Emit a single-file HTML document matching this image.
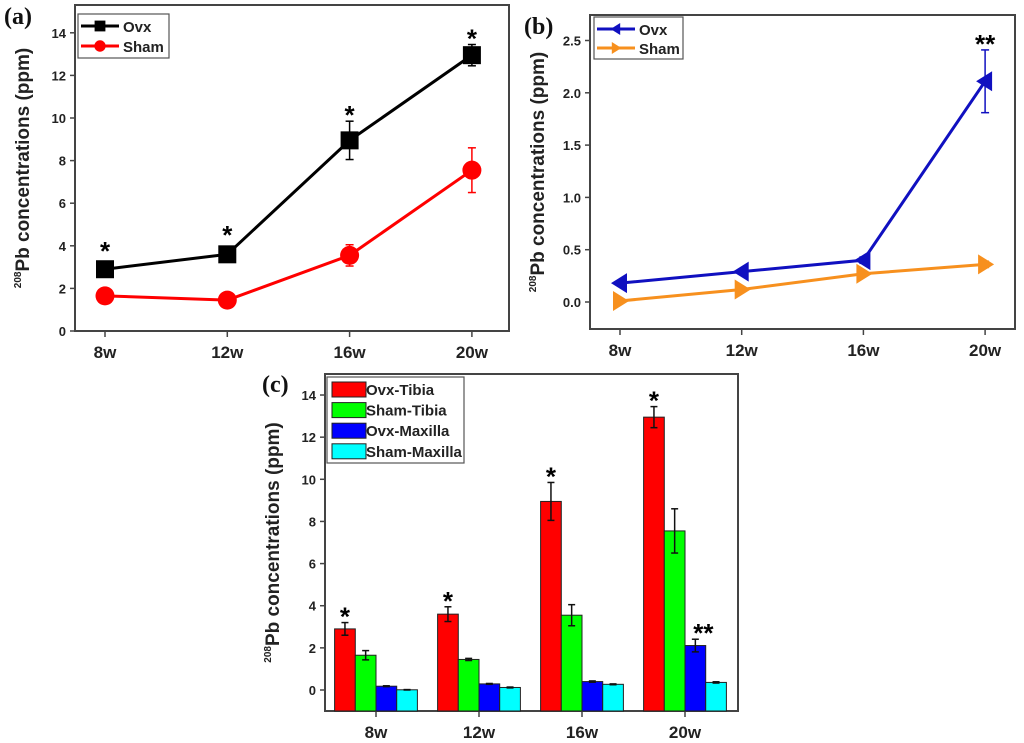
<!DOCTYPE html>
<html><head><meta charset="utf-8"><style>
html,body{margin:0;padding:0;background:#fff;}
svg{display:block;font-family:"Liberation Sans",Arial,sans-serif;}
</style></head><body>
<svg id="fig" width="1024" height="743" viewBox="0 0 1024 743" xmlns="http://www.w3.org/2000/svg"></svg>
<script>
const weeks = ["8w","12w","16w","20w"];
const tibiaOvx = [2.9,3.6,8.95,12.95];
const tibiaOvxErr = [0.3,0.35,0.9,0.5];
const tibiaSham = [1.65,1.45,3.55,7.55];
const tibiaShamErr = [0.22,0.05,0.5,1.05];
const maxOvx = [0.18,0.29,0.40,2.11];
const maxOvxErr = [0.02,0.02,0.03,0.3];
const maxSham = [0.01,0.12,0.27,0.36];
const maxShamErr = [0.01,0.02,0.02,0.03];
const ticksA = [0,2,4,6,8,10,12,14];
const ticksB = [0.0,0.5,1.0,1.5,2.0,2.5];
const starsA = ["*","*","*","*"];
const starsB = ["","","","**"];

const NS="http://www.w3.org/2000/svg";
const svg=document.getElementById('fig');
function mk(tag,attrs,parent,text){const e=document.createElementNS(NS,tag);for(const k in attrs)e.setAttribute(k,attrs[k]);if(text!==undefined)e.textContent=text;(parent||svg).appendChild(e);return e;}

function axes(g,P,ticks,fmt,label){
  mk('rect',{x:P.x0,y:P.top,width:P.x1-P.x0,height:P.bot-P.top,fill:'none',stroke:'#444','stroke-width':2},g);
  ticks.forEach(t=>{const y=P.ys(t);
    mk('line',{x1:P.x0-5,x2:P.x0,y1:y,y2:y,stroke:'#444','stroke-width':1.5},g);
    const tx=mk('text',{x:P.x0-9,y:y+5,'text-anchor':'end','font-size':13,'font-weight':'bold',fill:'#222'},g,fmt(t));
    });
  weeks.forEach((w,i)=>{const x=P.xs(i);
    mk('line',{x1:x,x2:x,y1:P.bot,y2:P.bot+6,stroke:'#444','stroke-width':1.5},g);
    const tx=mk('text',{x:x,y:P.bot+27,'text-anchor':'middle','font-size':17,'font-weight':'bold',fill:'#222'},g,w);
    });
  const cy=(P.top+P.bot)/2, lx=P.x0-46;
  const t=mk('text',{transform:`translate(${lx},${cy}) rotate(-90)`,'text-anchor':'middle','font-size':19,'font-weight':'bold',fill:'#222'},g);
  
  mk('tspan',{'font-size':10,dy:-8},t,'208');
  mk('tspan',{dy:8},t,'Pb concentrations (ppm)');
  const pl=mk('text',{x:P.lx,y:P.ly,'font-size':24,'font-weight':'bold','font-family':'Liberation Serif,serif',fill:'#111'},g,label);
  
}
function errbar(g,x,y1,y2,col,w){
  mk('line',{x1:x,x2:x,y1:y1,y2:y2,stroke:col,'stroke-width':1.5},g);
  mk('line',{x1:x-w,x2:x+w,y1:y1,y2:y1,stroke:col,'stroke-width':1.5},g);
  mk('line',{x1:x-w,x2:x+w,y1:y2,y2:y2,stroke:col,'stroke-width':1.5},g);
}
function marker(g,type,x,y,col){
  if(type==='sq')return mk('rect',{x:x-9,y:y-9,width:18,height:18,fill:col},g);
  if(type==='ci')return mk('circle',{cx:x,cy:y,r:9.5,fill:col},g);
  if(type==='tl')return mk('polygon',{points:`${x-9},${y} ${x+7},${y-10} ${x+7},${y+10}`,fill:col},g);
  if(type==='tr')return mk('polygon',{points:`${x+9},${y} ${x-7},${y-10} ${x-7},${y+10}`,fill:col},g);
}
function line(g,P,vals,errs,col,type,name){
  const pts=vals.map((v,i)=>P.xs(i)+','+P.ys(v)).join(' ');
  const pl=mk('polyline',{points:pts,fill:'none',stroke:col,'stroke-width':3},g);
  
  vals.forEach((v,i)=>{errbar(g,P.xs(i),P.ys(v+errs[i]),P.ys(v-errs[i]),col,4);
    const m=marker(g,type,P.xs(i),P.ys(v),col);
    });
}
function legendLine(g,x,y,col,type,label){
  mk('line',{x1:x,x2:x+38,y1:y,y2:y,stroke:col,'stroke-width':3},g);
  const m=marker(g,type,x+19,y,col);m.setAttribute('transform',`translate(${x+19},${y}) scale(0.6) translate(${-(x+19)},${-y})`);
  const t=mk('text',{x:x+42,y:y+6,'font-size':15,'font-weight':'bold',fill:'#222'},g,label);
  
}
function star(g,x,errTop,s){
  const t=mk('text',{x:x,y:errTop+3,'text-anchor':'middle','font-size':26,'font-weight':'bold'},g,s);
  
}

// Panel A
const gA=mk('g',{});
const PA={x0:75,x1:509,top:5,bot:331,lx:4,ly:24,ys:v=>331-v*21.3,xs:i=>105+i*122.3};
axes(gA,PA,ticksA,t=>String(t),'(a)');
line(gA,PA,tibiaOvx,tibiaOvxErr,'#000','sq','ovx-tibia');
line(gA,PA,tibiaSham,tibiaShamErr,'#f00','ci','sham-tibia');
starsA.forEach((s,i)=>star(gA,PA.xs(i),PA.ys(tibiaOvx[i]+tibiaOvxErr[i])-(i<2?6:0),s));
const lA=mk('g',{});gA.appendChild(lA);
mk('rect',{x:78,y:14,width:91,height:44,fill:'#fff',stroke:'#555','stroke-width':1.2},lA);
legendLine(lA,81,26,'#000','sq','Ovx');legendLine(lA,81,46,'#f00','ci','Sham');

// Panel B
const gB=mk('g',{});
const PB={x0:590,x1:1015,top:15,bot:329,lx:524,ly:34,ys:v=>302-v*104.6,xs:i=>620+i*121.7};
axes(gB,PB,ticksB,t=>t.toFixed(1),'(b)');
line(gB,PB,maxSham,maxShamErr,'#f7901e','tr','sham-maxilla');
line(gB,PB,maxOvx,maxOvxErr,'#1010c0','tl','ovx-maxilla');
starsB.forEach((s,i)=>{if(s)star(gB,PB.xs(i),PB.ys(maxOvx[i]+maxOvxErr[i]),s);});
const lB=mk('g',{});gB.appendChild(lB);
mk('rect',{x:594,y:17,width:89,height:42,fill:'#fff',stroke:'#555','stroke-width':1.2},lB);
legendLine(lB,597,29,'#1010c0','tl','Ovx');legendLine(lB,597,48,'#f7901e','tr','Sham');

// Panel C
const gC=mk('g',{});
const PC={x0:325,x1:738,top:374,bot:711,lx:262,ly:392,ys:v=>690-v*21.07,xs:i=>376+i*103};
axes(gC,PC,ticksA,t=>String(t),'(c)');
const seriesC=[[tibiaOvx,tibiaOvxErr,'#f00','ovx-tibia'],[tibiaSham,tibiaShamErr,'#0f0','sham-tibia'],[maxOvx,maxOvxErr,'#00f','ovx-maxilla'],[maxSham,maxShamErr,'#0ff','sham-maxilla']];
const bw=20.7;
seriesC.forEach((s,k)=>{s[0].forEach((v,i)=>{const x=PC.xs(i)-2*bw+k*bw;const y=PC.ys(v);
  const r=mk('rect',{x:x,y:y,width:bw,height:PC.bot-y,fill:s[2],stroke:'#222','stroke-width':1},gC);
  
  errbar(gC,x+bw/2,PC.ys(v+s[1][i]),PC.ys(v-s[1][i]),'#111',3.5);});});
weeks.forEach((w,i)=>{
  star(gC,PC.xs(i)-1.5*bw,PC.ys(tibiaOvx[i]+tibiaOvxErr[i]),starsA[i]);
  if(starsB[i])star(gC,PC.xs(i)+0.5*bw+8,PC.ys(maxOvx[i]+maxOvxErr[i]),starsB[i]);});
const lC=mk('g',{});gC.appendChild(lC);
mk('rect',{x:327,y:377,width:137,height:86,fill:'#fff',stroke:'#555','stroke-width':1.2},lC);
seriesC.forEach((s,k)=>{const y=382+k*20.6;
  mk('rect',{x:332,y:y,width:34,height:15,fill:s[2],stroke:'#222','stroke-width':1},lC);
  const t=mk('text',{x:366,y:y+13,'font-size':15,'font-weight':'bold',fill:'#222'},lC,['Ovx-Tibia','Sham-Tibia','Ovx-Maxilla','Sham-Maxilla'][k]);
  });
</script>
</body></html>
